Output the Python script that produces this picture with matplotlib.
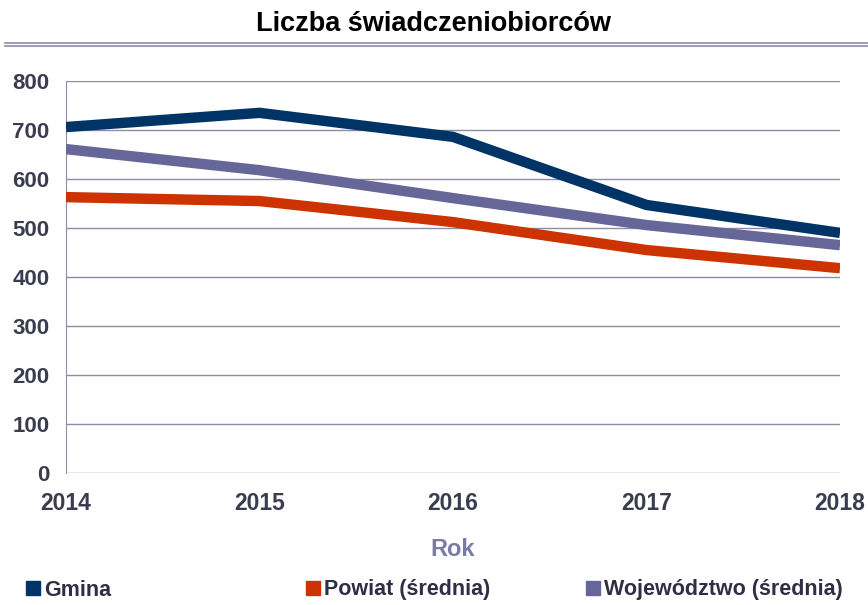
import matplotlib
matplotlib.use('Agg')
import matplotlib.pyplot as plt
from matplotlib.lines import Line2D

years = [2014, 2015, 2016, 2017, 2018]
gmina = [706, 735, 686, 547, 490]
powiat = [563, 555, 512, 455, 418]
wojewodztwo = [661, 618, 561, 506, 465]

series_names = ['Gmina', 'Powiat (średnia)', 'Województwo (średnia)']
series_colors = ['#003366', '#cc3300', '#666699']

plt.rcParams['font.family'] = ['Liberation Sans', 'DejaVu Sans']

fig = plt.figure(figsize=(8.68, 6.05), dpi=100)
ax = fig.add_axes([66 / 868, 132 / 605, 774 / 868, 392 / 605])

for vals, col in zip([gmina, powiat, wojewodztwo], series_colors):
    ax.plot(years, vals, color=col, lw=7.5, solid_capstyle='butt', solid_joinstyle='round', zorder=3)

ax.set_xlim(2014, 2018)
ax.set_ylim(0, 800)
ax.set_xticks(years)
ax.set_yticks(range(0, 801, 100))
ax.grid(axis='y', color='#8c8ca8', lw=1)
ax.tick_params(length=0, labelcolor='#3c3c50')
ax.tick_params(axis='x', pad=14, labelsize=16.5)
ax.tick_params(axis='y', pad=12, labelsize=16)
for lab in ax.get_xticklabels() + ax.get_yticklabels():
    lab.set_fontweight('bold')
for s in ['top', 'right', 'bottom']:
    ax.spines[s].set_visible(False)
ax.spines['left'].set_color('#8c8ca8')
ax.set_xlabel('Rok', fontsize=17, fontweight='bold', color='#7a7aa6', labelpad=16)

fig.text(0.5, 1 - 24 / 605, 'Liczba świadczeniobiorców', ha='center', va='center',
         fontsize=19.5, fontweight='bold', color='black')
fig.add_artist(Line2D([5 / 868, 1], [1 - 43 / 605] * 2, color='#8c8ca8', lw=1.2))
fig.add_artist(Line2D([5 / 868, 1], [1 - 46 / 605] * 2, color='#8c8ca8', lw=1.2))

leg_x = [14, 294, 574]
for name, col, x in zip(series_names, series_colors, leg_x):
    h = Line2D([], [], color=col, marker='s', markersize=10, linestyle='none')
    leg = fig.legend([h], [name], loc='center left', bbox_to_anchor=(x / 868, 1 - 590 / 605),
                     frameon=False, handlelength=0.8, handletextpad=0.1, borderpad=0,
                     prop={'weight': 'bold', 'size': 15.5})
    for t in leg.get_texts():
        t.set_color('#2e2e44')

fig.savefig('out.png', dpi=100)
